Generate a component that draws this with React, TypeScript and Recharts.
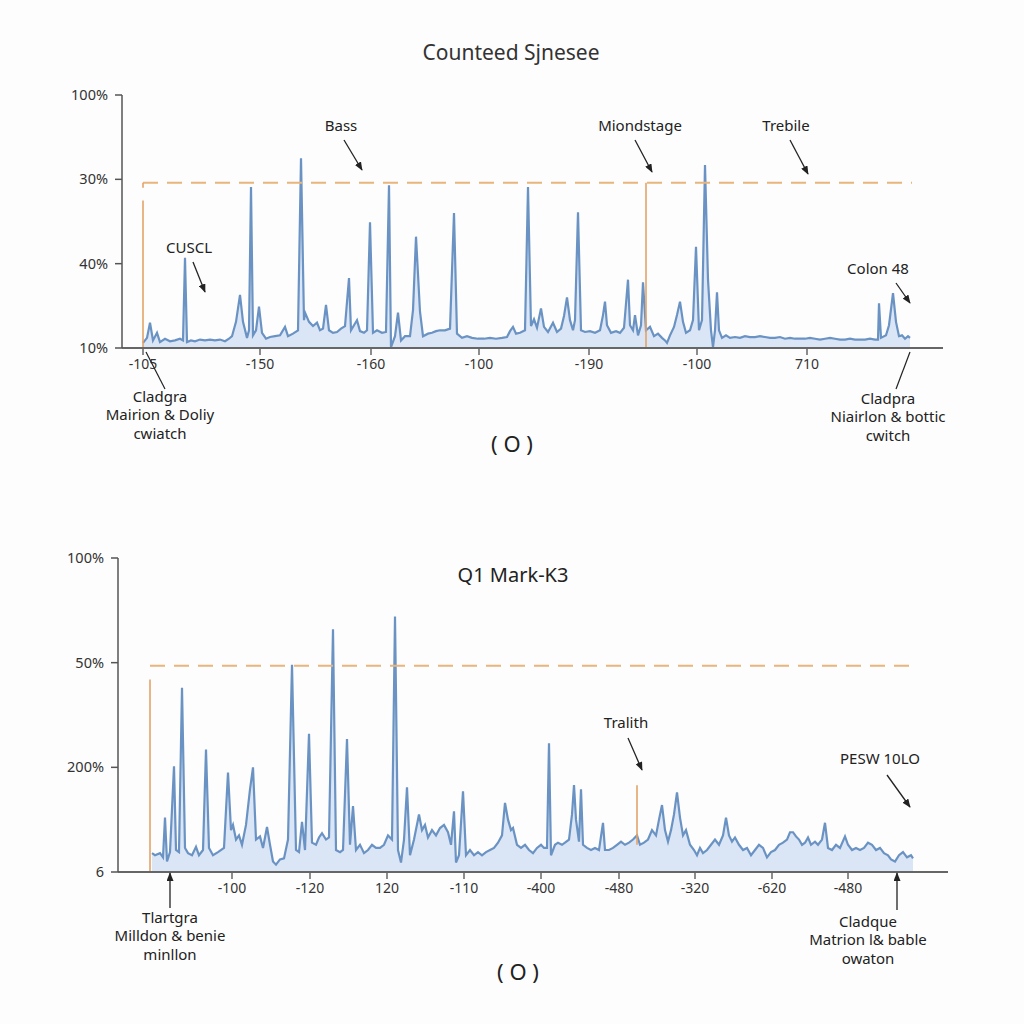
import React from 'react';
import { ComposedChart, Area, XAxis, YAxis, ReferenceLine } from 'recharts';

const FONT = '"Noto Sans", "DejaVu Sans", sans-serif';

// top panel: [bin, level]
const topSpectrum: [number, number][] = [
  [0, 0.06], [4, 0.12], [7, 0.3], [10, 0.09], [14, 0.18], [17, 0.07], [22, 0.11], [27, 0.08], [32, 0.09], [37, 0.11],
  [40, 0.09], [42, 1.07], [44, 0.07], [48, 0.09], [52, 0.08], [57, 0.1], [62, 0.09], [67, 0.1], [72, 0.09], [77, 0.1],
  [82, 0.08], [86, 0.11], [89, 0.14], [93, 0.31], [97, 0.63],
  [100, 0.31], [104, 0.12], [106, 0.21], [108, 1.91], [110, 0.15], [113, 0.21], [116, 0.49], [119, 0.18], [123, 0.11], [127, 0.13],
  [132, 0.14], [137, 0.15], [142, 0.25], [145, 0.14], [150, 0.17], [155, 0.21], [158, 2.25], [161, 0.33], [162, 0.42], [166, 0.31],
  [170, 0.26], [174, 0.3], [177, 0.21], [180, 0.23], [183, 0.51], [186, 0.21], [190, 0.18], [194, 0.19], [198, 0.23], [202, 0.26],
  [206, 0.83], [208, 0.21], [211, 0.27], [214, 0.33], [217, 0.2], [221, 0.18], [224, 0.21], [227, 1.49], [230, 0.18], [234, 0.21],
  [239, 0.18], [243, 0.19], [246, 1.93], [248, 0.01], [252, 0.14], [255, 0.42], [258, 0.09], [262, 0.14], [267, 0.14], [270, 0.45],
  [273, 1.32], [277, 0.43], [280, 0.14], [285, 0.17], [289, 0.18], [293, 0.2], [297, 0.21], [302, 0.21], [307, 0.23], [311, 1.6],
  [314, 0.17], [319, 0.12], [324, 0.14], [329, 0.12], [335, 0.11], [341, 0.11], [347, 0.12], [353, 0.11], [359, 0.12], [364, 0.13],
  [367, 0.2], [370, 0.25], [373, 0.17], [377, 0.18], [382, 0.21], [385, 1.91], [388, 0.26], [391, 0.34], [394, 0.24], [398, 0.47],
  [401, 0.25], [405, 0.19], [410, 0.3], [414, 0.19], [418, 0.23], [421, 0.38], [424, 0.6], [427, 0.33], [430, 0.21], [432, 0.33],
  [435, 1.61], [438, 0.21], [442, 0.19], [447, 0.2], [452, 0.18], [457, 0.21], [460, 0.39], [462, 0.55], [464, 0.27], [468, 0.18],
  [473, 0.2], [477, 0.18], [481, 0.24], [485, 0.81], [487, 0.27], [490, 0.21], [492, 0.39], [495, 0.15], [498, 0.27], [500, 0.78],
  [503, 0.21], [507, 0.25], [511, 0.14], [515, 0.17], [519, 0.12], [522, 0.09], [524, 0.06], [527, 0.15], [531, 0.25], [534, 0.39],
  [537, 0.55], [540, 0.31], [543, 0.18], [547, 0.21], [550, 0.33], [553, 1.2], [556, 0.21], [559, 0.33], [562, 2.17], [565, 0.81],
  [568, 0.21], [570, 0.01], [572, 0.21], [574, 0.66], [576, 0.21], [579, 0.12], [583, 0.15], [587, 0.12], [592, 0.13], [597, 0.12],
  [602, 0.14], [607, 0.13], [612, 0.13], [617, 0.14], [622, 0.13], [627, 0.12], [632, 0.12], [637, 0.13], [642, 0.11], [647, 0.12],
  [652, 0.11], [657, 0.11], [662, 0.11], [667, 0.12], [672, 0.11], [677, 0.1], [682, 0.11], [687, 0.12], [692, 0.11], [697, 0.1],
  [702, 0.1], [707, 0.11], [712, 0.1], [717, 0.1], [722, 0.1], [727, 0.11], [732, 0.1], [735, 0.1], [736, 0.53], [738, 0.12],
  [743, 0.15], [746, 0.27], [750, 0.65], [753, 0.31], [756, 0.14], [759, 0.15], [762, 0.11], [765, 0.14], [767, 0.12],
];
const topTickBins = [0, 117, 228, 336, 446, 554, 664];
const topTickLabels = ['-105', '-150', '-160', '-100', '-190', '-100', '710'];
const topLevelLabels = ['10%', '40%', '30%', '100%'];

// bottom panel: [bin, level]
const bottomSpectrum: [number, number][] = [
  [0, 0.18], [3, 0.16], [8, 0.18], [11, 0.14], [13, 0.52], [15, 0.1], [18, 0.19], [22, 1.01], [24, 0.21], [27, 0.19],
  [30, 1.76], [33, 0.23], [36, 0.18], [40, 0.16], [44, 0.24], [47, 0.16], [51, 0.21], [54, 1.17], [57, 0.23], [61, 0.16],
  [66, 0.19], [72, 0.23], [76, 0.95], [79, 0.4], [81, 0.45], [84, 0.31], [87, 0.35], [90, 0.26], [94, 0.45], [98, 0.79],
  [101, 1.0], [104, 0.31], [108, 0.34], [111, 0.23], [115, 0.43], [118, 0.26], [121, 0.1], [124, 0.07], [128, 0.12], [132, 0.13],
  [136, 0.31], [140, 1.98], [144, 0.21], [147, 0.19], [150, 0.48], [153, 0.21], [157, 1.32], [160, 0.28], [164, 0.26], [167, 0.33],
  [170, 0.37], [174, 0.31], [177, 0.33], [181, 2.32], [184, 0.21], [188, 0.19], [191, 0.21], [195, 1.27], [198, 0.26], [201, 0.63],
  [204, 0.21], [208, 0.26], [212, 0.18], [216, 0.21], [220, 0.26], [224, 0.23], [228, 0.23], [232, 0.26], [236, 0.35], [240, 0.31],
  [243, 2.44], [246, 0.21], [249, 0.09], [252, 0.31], [255, 0.81], [258, 0.16], [262, 0.31], [267, 0.55], [270, 0.4], [273, 0.45],
  [276, 0.33], [280, 0.4], [284, 0.35], [288, 0.42], [292, 0.45], [296, 0.38], [299, 0.26], [302, 0.58], [304, 0.09], [307, 0.16],
  [311, 0.77], [314, 0.16], [318, 0.21], [322, 0.16], [326, 0.19], [330, 0.16], [334, 0.19], [338, 0.21], [342, 0.23], [346, 0.28],
  [350, 0.35], [353, 0.66], [356, 0.5], [359, 0.4], [361, 0.42], [365, 0.26], [369, 0.23], [373, 0.26], [377, 0.21], [381, 0.18],
  [385, 0.23], [389, 0.26], [392, 0.23], [395, 0.23], [397, 1.23], [399, 0.16], [403, 0.26], [406, 0.28], [410, 0.26], [413, 0.28],
  [417, 0.31], [420, 0.55], [422, 0.83], [424, 0.5], [427, 0.29], [429, 0.79], [431, 0.26], [435, 0.23], [439, 0.21], [443, 0.23],
  [447, 0.21], [451, 0.47], [453, 0.21], [457, 0.21], [461, 0.23], [465, 0.26], [469, 0.29], [473, 0.26], [477, 0.28], [481, 0.31],
  [485, 0.35], [488, 0.26], [492, 0.28], [496, 0.31], [500, 0.4], [504, 0.35], [507, 0.5], [510, 0.64], [513, 0.4], [516, 0.29],
  [519, 0.4], [522, 0.55], [525, 0.76], [528, 0.52], [531, 0.35], [534, 0.4], [538, 0.26], [542, 0.21], [545, 0.16], [548, 0.23],
  [551, 0.18], [555, 0.21], [559, 0.26], [563, 0.31], [567, 0.26], [571, 0.35], [574, 0.52], [577, 0.35], [580, 0.29], [583, 0.33],
  [587, 0.26], [591, 0.21], [595, 0.23], [599, 0.16], [603, 0.21], [607, 0.26], [611, 0.23], [615, 0.14], [619, 0.19], [623, 0.21],
  [627, 0.26], [631, 0.28], [635, 0.31], [638, 0.38], [641, 0.38], [644, 0.34], [647, 0.31], [650, 0.26], [653, 0.28], [656, 0.33],
  [659, 0.26], [663, 0.29], [666, 0.26], [670, 0.31], [673, 0.47], [676, 0.23], [680, 0.21], [684, 0.26], [688, 0.23], [693, 0.34],
  [696, 0.26], [700, 0.21], [704, 0.23], [708, 0.21], [712, 0.23], [716, 0.28], [720, 0.26], [724, 0.21], [728, 0.23], [732, 0.18],
  [736, 0.16], [739, 0.12], [743, 0.1], [747, 0.16], [751, 0.19], [755, 0.14], [759, 0.16], [761, 0.13],
];
const bottomTickBins = [80, 158, 235, 312, 389, 467, 543, 620, 696];
const bottomTickLabels = ['-100', '-120', '120', '-110', '-400', '-480', '-320', '-620', '-480'];
const bottomLevelLabels = ['6', '200%', '50%', '100%'];

const LINE = '#6a93c3';
const FILL = '#d3e1f3';
const ORANGE = '#e8b57c';
const AXIS = '#555';

const toRows = (s: [number, number][]) => s.map(([bin, level]) => ({ bin, level }));

const tickStyle = { fontSize: 14, fill: '#333', fontFamily: FONT };

const Panel = ({ rows, height, margin, xDomain, ticks, tickLabels, levelLabels, refs }: any) => (
  <ComposedChart width={1024} height={height} data={rows} margin={margin}>
    <XAxis
      type="number"
      dataKey="bin"
      domain={xDomain}
      ticks={ticks}
      tickFormatter={(_v: number, i: number) => tickLabels[i]}
      interval={0}
      height={30}
      tick={tickStyle}
      tickSize={7}
      tickMargin={4}
      axisLine={{ stroke: '#666', strokeWidth: 2 }}
      tickLine={{ stroke: '#666', strokeWidth: 1.5 }}
      allowDataOverflow
    />
    <YAxis
      type="number"
      domain={[0, 3]}
      ticks={[0, 1, 2, 3]}
      tickFormatter={(v: number) => levelLabels[v]}
      width={60}
      tick={{ ...tickStyle, fontSize: 14.5 }}
      tickSize={7}
      tickMargin={7}
      axisLine={{ stroke: AXIS, strokeWidth: 1.5 }}
      tickLine={{ stroke: AXIS, strokeWidth: 1.5 }}
    />
    <Area
      type="linear"
      dataKey="level"
      stroke={LINE}
      strokeWidth={2.2}
      fill={FILL}
      fillOpacity={0.85}
      dot={false}
      activeDot={false}
      isAnimationActive={false}
    />
    {refs.map((r: any, i: number) => (
      <ReferenceLine
        key={i}
        segment={r.seg}
        stroke={r.dashed ? ORANGE : '#e3a368'}
        strokeWidth={r.dashed ? 2 : 1.6}
        strokeDasharray={r.dashed ? '15 9' : undefined}
        ifOverflow="visible"
      />
    ))}
  </ComposedChart>
);

const Arrow = ({ x1, y1, x2, y2 }: any) => (
  <line x1={x1} y1={y1} x2={x2} y2={y2} stroke="#222" strokeWidth={1.3} markerEnd="url(#ah)" />
);

const Label = ({ x, y, lines, size = 15 }: any) => (
  <text x={x} y={y} textAnchor="middle" fontSize={size} fill="#222" fontFamily={FONT}>
    {lines.map((l: string, i: number) => (
      <tspan key={i} x={x} dy={i === 0 ? 0 : size * 1.22}>{l}</tspan>
    ))}
  </text>
);

const Overlay = () => (
  <svg width={1024} height={1024} style={{ position: 'absolute', left: 0, top: 0, pointerEvents: 'none' }}>
    <defs>
      <marker id="ah" viewBox="0 0 10 8" refX={9} refY={4} markerWidth={9} markerHeight={7} orient="auto" markerUnits="userSpaceOnUse">
        <path d="M0,0 L10,4 L0,8 z" fill="#222" />
      </marker>
    </defs>
    <text x={511} y={60} textAnchor="middle" fontSize={21} fill="#333" fontFamily={FONT}>Counteed Sjnesee</text>
    <Label x={341} y={131} lines={['Bass']} />
    <Arrow x1={344} y1={140} x2={362} y2={170} />
    <Label x={640} y={131} lines={['Miondstage']} />
    <Arrow x1={635} y1={140} x2={652} y2={172} />
    <Label x={786} y={131} lines={['Trebile']} />
    <Arrow x1={790} y1={140} x2={808} y2={174} />
    <Label x={189} y={253} lines={['CUSCL']} />
    <Arrow x1={193} y1={262} x2={205} y2={292} />
    <Label x={878} y={274} lines={['Colon  48']} />
    <Arrow x1={896} y1={283} x2={910} y2={303} />
    <line x1={146} y1={352} x2={165} y2={389} stroke="#222" strokeWidth={1.2} />
    <Label x={160} y={402} lines={['Cladgra', 'Mairion & Doliy', 'cwiatch']} />
    <line x1={910} y1={352} x2={896} y2={389} stroke="#222" strokeWidth={1.2} />
    <Label x={888} y={404} lines={['Cladpra', 'Niairlon & bottic', 'cwitch']} />
    <text x={512} y={452} textAnchor="middle" fontSize={22} fill="#222" fontFamily={FONT}>( O )</text>

    <text x={513} y={582} textAnchor="middle" fontSize={20} fill="#222" fontFamily={FONT}>Q1 Mark-K3</text>
    <Label x={626} y={728} lines={['Tralith']} />
    <Arrow x1={628} y1={738} x2={642} y2={770} />
    <Label x={880} y={764} lines={['PESW 10LO']} />
    <Arrow x1={887} y1={775} x2={910} y2={807} />
    <Arrow x1={170} y1={908} x2={170} y2={873} />
    <Label x={170} y={923} lines={['Tlartgra', 'Milldon & benie', 'minllon']} />
    <Arrow x1={897} y1={910} x2={897} y2={873} />
    <Label x={868} y={927} lines={['Cladque', 'Matrion l& bable', 'owaton']} />
    <text x={518} y={980} textAnchor="middle" fontSize={22} fill="#222" fontFamily={FONT}>( O )</text>
  </svg>
);

export default function App() {
  return (
    <div style={{ position: 'absolute', left: 0, top: 0, width: 1024, height: 1024, background: '#fdfdfd', fontFamily: FONT }}>
      <div style={{ position: 'absolute', left: 0, top: 0 }}>
        <Panel
          rows={toRows(topSpectrum)}
          height={480}
          margin={{ top: 95, right: 81, bottom: 102, left: 62 }}
          xDomain={[-21, 800]}
          ticks={topTickBins}
          tickLabels={topTickLabels}
          levelLabels={topLevelLabels}
          refs={[
            { seg: [{ x: 0, y: 1.96 }, { x: 769, y: 1.96 }], dashed: true },
            { seg: [{ x: 0, y: 1.96 }, { x: 0, y: 1.9 }], dashed: false },
            { seg: [{ x: 0, y: 0 }, { x: 0, y: 1.75 }], dashed: false },
            { seg: [{ x: 503, y: 0 }, { x: 503, y: 1.96 }], dashed: false },
          ]}
        />
      </div>
      <div style={{ position: 'absolute', left: 0, top: 500 }}>
        <Panel
          rows={toRows(bottomSpectrum)}
          height={524}
          margin={{ top: 58, right: 76, bottom: 122, left: 58 }}
          xDomain={[-34, 796]}
          ticks={bottomTickBins}
          tickLabels={bottomTickLabels}
          levelLabels={bottomLevelLabels}
          refs={[
            { seg: [{ x: -2, y: 1.97 }, { x: 766, y: 1.97 }], dashed: true },
            { seg: [{ x: -2, y: 0 }, { x: -2, y: 1.84 }], dashed: false },
            { seg: [{ x: 485, y: 0.26 }, { x: 485, y: 0.83 }], dashed: false },
          ]}
        />
      </div>
      <Overlay />
    </div>
  );
}
